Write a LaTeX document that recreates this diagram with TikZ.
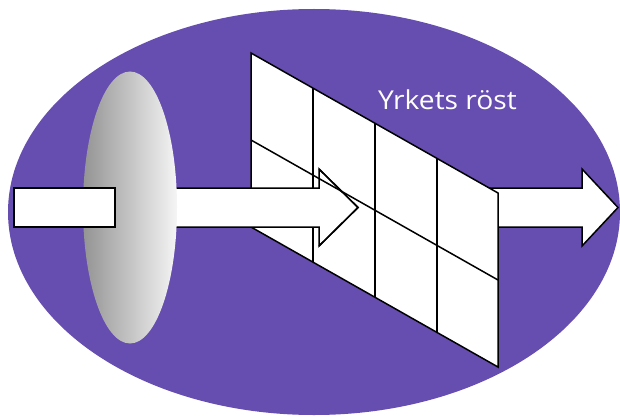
\documentclass[tikz,border=0pt]{standalone}
\usepackage{fontspec}
\setmainfont{Open Sans}
\definecolor{bgpurple}{RGB}{102,77,176}
\begin{document}
\begin{tikzpicture}[x=1pt,y=-1pt,
  outl/.style={draw=black,line width=1.5pt,line join=miter},
  gridline/.style={draw=black,line width=1.5pt}]
\useasboundingbox (0,0) rectangle (620,417);
% background ellipse
\fill[bgpurple] (314,212) ellipse [x radius=306, y radius=203];
% right arrow (behind grid)
\draw[outl,fill=white] (480,188) -- (582,188) -- (582,169) -- (618,207.5) -- (582,246) -- (582,227) -- (480,227) -- cycle;
% grid panel
\coordinate (TL) at (251,53);
\coordinate (TR) at (498,193);
\coordinate (BR) at (498,367);
\coordinate (BL) at (251,227);
\draw[outl,fill=white] (TL) -- (TR) -- (BR) -- (BL) -- cycle;
\coordinate (ML) at (251,140);
\coordinate (MR) at (498,280);
\draw[gridline] (ML) -- (MR);
\draw[gridline] (313,88.1) -- (313,262.1);
\draw[gridline] (375,123.3) -- (375,297.3);
\draw[gridline] (437,158.4) -- (437,332.4);
% middle arrow
\draw[outl,fill=white] (130,188) -- (319,188) -- (319,169) -- (358,207.5) -- (319,246) -- (319,227) -- (130,227) -- cycle;
\begin{scope}
\clip (319,169) -- (358,207.5) -- (319,246) -- cycle;
\draw[gridline] (ML) -- (MR);
\end{scope}
\draw[outl] (319,169) -- (358,207.5) -- (319,246);
% lens
\shade[left color=black!42, right color=white!96!black] (130,207.5) ellipse [x radius=47, y radius=136];
% input box
\draw[outl,fill=white] (14,188) rectangle (115,227);
% label
\node[text=white, anchor=base west, inner sep=0pt, xscale=1.085, font=\fontsize{26}{31}\selectfont] (lbl) at (378,110) {Yrkets röst};
\end{tikzpicture}
\end{document}
